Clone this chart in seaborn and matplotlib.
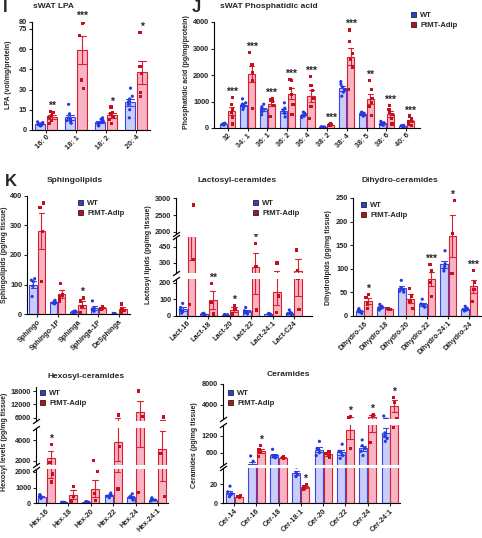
import numpy as np
import pandas as pd
import matplotlib
matplotlib.use("Agg")
import matplotlib.pyplot as plt
import seaborn as sns
from matplotlib.patches import Patch
from matplotlib.markers import MarkerStyle
from matplotlib.colors import to_rgb

# ---- data ----
GROUPS = ["WT", "FtMT-Adip"]

LPA_CATS = ["16: 0", "18: 1", "18: 2", "20: 4"]
LPA_WT = [[3, 3.5, 4, 4.5, 5, 5.5, 6, 4], [5, 6, 7, 8, 9, 12, 19],
          [3, 4, 5, 6, 7, 8, 9, 6], [9, 15, 19, 21, 23, 25, 31]]
LPA_FT = [[5, 7, 9, 11, 13, 14], [31, 37, 70, 79, 80],
          [5, 8, 10, 13, 17, 12], [25, 28, 42, 47, 72]]
LPA_STARS = ["**", "***", "*", "*"]

PA_CATS = ["32", "34: 1", "36: 1", "36: 2", "36: 4", "38: 2", "38: 4", "38: 5", "38: 6", "40: 6"]
PA_WT = [[110, 130, 150, 160, 180, 170], [700, 780, 850, 900, 950, 1100],
         [500, 620, 700, 750, 800, 900], [420, 550, 600, 680, 750, 950],
         [400, 450, 480, 520, 560, 600], [10, 20, 30, 35, 40, 45],
         [1200, 1350, 1450, 1550, 1650, 1750], [450, 480, 500, 530, 560, 600],
         [100, 130, 160, 180, 200, 250], [40, 55, 65, 75, 85, 100]]
PA_FT = [[150, 400, 600, 700, 900, 1150], [750, 1800, 2100, 2350, 2400, 2850],
         [430, 850, 1000, 1050, 1100, 1080], [500, 900, 1250, 1500, 1800, 1820],
         [350, 800, 1100, 1400, 1600, 1950], [80, 100, 120, 130, 140, 150],
         [1450, 2300, 2600, 2800, 3250, 3700], [480, 800, 950, 1100, 1450, 1800],
         [150, 350, 500, 600, 700, 850], [100, 150, 250, 300, 350, 450]]
PA_STARS = ["***", "***", "***", "***", "***", "***", "***", "**", "***", "***"]

SPH_CATS = ["Sphingo", "Sphingo-1P", "Sphinga", "Sphinga-1P", "DeSphinga"]
SPH_WT = [[60, 95, 110, 115, 120], [35, 38, 40, 44, 47], [5, 7, 8, 10, 11],
          [10, 15, 18, 20, 45], [1, 2, 2, 3]]
SPH_FT = [[110, 280, 360, 375], [45, 58, 65, 105], [5, 25, 45, 55],
          [18, 21, 22, 25], [5, 12, 18, 35]]
SPH_STARS = ["", "", "*", "", ""]

LAC_CATS = ["Lact-16", "Lact-18", "Lact-20", "Lact-22", "Lact-24:1", "Lact-C24"]
LAC_WT = [[15, 25, 35, 50, 75], [5, 8, 10, 12, 15], [3, 4, 5, 6, 7],
          [10, 18, 25, 30, 50], [6, 8, 10, 12, 14], [5, 10, 15, 20, 35]]
LAC_FT = [[70, 330, 600, 2800], [10, 80, 195], [10, 40, 60],
          [35, 270, 480], [20, 120, 300], [40, 230, 420]]
LAC_STARS = ["", "**", "*", "*", "", ""]

DIH_CATS = ["Dihydro-16", "Dihydro-18", "Dihydro-20", "Dihydro-22", "Dihydro-24:1", "Dihydro-24"]
DIH_WT = [[5, 8, 10, 12, 15], [12, 16, 18, 20, 24], [50, 52, 55, 58, 75],
          [18, 20, 23, 25, 35], [95, 100, 105, 110, 138], [10, 12, 14, 16, 20]]
DIH_FT = [[15, 25, 38, 45], [13, 14, 15, 15], [15, 30, 42, 58],
          [40, 70, 95, 108], [90, 175, 245], [30, 55, 70, 96]]
DIH_STARS = ["*", "", "", "***", "*", "***"]

HEX_CATS = ["Hex-16", "Hex-18", "Hex-20", "Hex-22", "Hex-24", "Hex-24:1"]
HEX_WT = [[300, 380, 430, 480, 550], [30, 40, 50, 60, 70], [50, 70, 80, 90, 110],
          [350, 450, 500, 550, 650], [200, 300, 380, 450, 600], [150, 200, 230, 250, 350]]
HEX_FT = [[1350, 1850, 3600], [150, 450, 1050], [200, 600, 2000],
          [900, 3400, 7200], [700, 6500, 18000], [420, 2700, 6300]]
HEX_STARS = ["*", "", "", "", "", ""]

CER_CATS = ["Cer-14", "Cer-16", "Cer-18", "Cer-18:1", "Cer-20", "Cer-22", "Cer-24", "Cer-24:1"]
CER_WT = [[7, 9, 10, 12, 18], [40, 60, 100, 300, 484], [420, 450, 480, 500, 720],
          [28, 30, 32, 38], [500, 600, 700, 750, 1000], [400, 500, 600, 650, 900],
          [500, 650, 750, 850, 1050], [1000, 1100, 1200, 1300, 1900]]
CER_FT = [[6, 7, 7.5, 8], [480, 600, 700, 860], [400, 420, 440, 460], [15, 16, 18, 20],
          [450, 500, 560, 650], [760, 1650, 1800], [950, 2000, 2100], [1500, 4500, 5500]]
CER_STARS = ["", "*", "", "*", "", "*", "*", "*"]

# ---- style ----
W, H = 482, 538
WT_EDGE, FT_EDGE = "#3a44e6", "#d8202e"
WT_FILL, FT_FILL = "#c9cdf8", "#f7b4c4"
WT_DOT, FT_DOT = "#2438e0", "#c4101c"
LEG_COLORS = ["#2f3fd6", "#b8101e"]

sns.set_style("ticks")
plt.rcParams["font.family"] = ["Liberation Sans", "DejaVu Sans"]
plt.rcParams["font.weight"] = "bold"
plt.rcParams["axes.linewidth"] = 0.8
plt.rcParams["axes.edgecolor"] = "black"

np.random.seed(3)
fig = plt.figure(figsize=(W / 100, H / 100), dpi=100)

SQUARE = MarkerStyle("s")
SQUARE_PATH = SQUARE.get_path().transformed(SQUARE.get_transform())


def px_axes(l, t, r, b):
    return fig.add_axes([l / W, 1 - b / H, (r - l) / W, (b - t) / H])


def long_form(cats, wt, ft):
    rows = []
    for cat, a, b in zip(cats, wt, ft):
        rows += [(cat, "WT", v) for v in a]
        rows += [(cat, "FtMT-Adip", v) for v in b]
    return pd.DataFrame(rows, columns=["lipid", "group", "value"])


def draw_bars(ax, df, cats):
    sns.barplot(data=df, x="lipid", y="value", hue="group", order=cats, hue_order=GROUPS,
                palette=[WT_EDGE, FT_EDGE], fill=False, errorbar="se", capsize=0.5,
                width=0.8, gap=0.1, linewidth=0.8, err_kws={"linewidth": 0.8},
                legend=False, ax=ax)
    for cont, fc in zip(ax.containers, [WT_FILL, FT_FILL]):
        for p in cont:
            p.set_facecolor(fc)
    sns.stripplot(data=df, x="lipid", y="value", hue="group", order=cats, hue_order=GROUPS,
                  palette=[WT_DOT, FT_DOT], dodge=True, jitter=0.22, size=2.3,
                  linewidth=0, legend=False, ax=ax)
    for coll in ax.collections:
        fc = coll.get_facecolor()
        if len(fc) and np.allclose(fc[0][:3], to_rgb(FT_DOT), atol=0.02):
            coll.set_paths([SQUARE_PATH])


def break_mark(ax, y):
    ax.plot([0], [y], transform=ax.transAxes, marker=[(-1, -0.7), (1, 0.7)],
            markersize=5, color="k", mec="k", mew=0.9, clip_on=False)


def add_stars(axes, lims, ft, stars):
    for i, (vals, s) in enumerate(zip(ft, stars)):
        if not s:
            continue
        arr = np.asarray(vals, float)
        top = max(arr.max(), arr.mean() + arr.std(ddof=1) / np.sqrt(len(arr)))
        target = axes[-1]
        for ax, (lo, hi) in zip(axes, lims):
            if top <= hi:
                target = ax
                break
        target.annotate(s, (i + 0.2, top), xytext=(0, 0.5), textcoords="offset points",
                        ha="center", va="bottom", fontsize=7.5, annotation_clip=False)


def panel(rects, lims, ticks, xlim, cats, wt, ft, stars):
    df = long_form(cats, wt, ft)
    axes = []
    for k, (rect, lim, tk) in enumerate(zip(rects, lims, ticks)):
        ax = px_axes(*rect)
        draw_bars(ax, df, cats)
        ax.set_ylim(lim)
        ax.set_yticks(tk)
        ax.set_xlim(xlim)
        ax.set_xlabel("")
        ax.set_ylabel("")
        sns.despine(ax=ax)
        ax.tick_params(axis="y", length=2.5, width=0.8, labelsize=5.3, pad=1)
        if k > 0:
            ax.spines["bottom"].set_visible(False)
            ax.tick_params(axis="x", bottom=False, labelbottom=False)
            break_mark(ax, 0)
        if k < len(rects) - 1:
            break_mark(ax, 1)
        axes.append(ax)
    ax0 = axes[0]
    ax0.tick_params(axis="x", length=2, width=0.8, labelsize=5.2, pad=1)
    for lab in ax0.get_xticklabels():
        lab.set_rotation(45)
        lab.set_ha("right")
        lab.set_rotation_mode("anchor")
    add_stars(axes, lims, ft, stars)
    return axes


def legend_at(x, y):
    handles = [Patch(facecolor=c, edgecolor="#222222", linewidth=0.6) for c in LEG_COLORS]
    fig.legend(handles, GROUPS, loc="upper left", bbox_to_anchor=(x / W, 1 - y / H),
               frameon=False, fontsize=5.5, handlelength=0.7, handleheight=0.7,
               handletextpad=0.5, labelspacing=0.35, borderpad=0, borderaxespad=0)


def label(x, y, s, size=5.0, rot=90, ha="center"):
    fig.text(x / W, 1 - y / H, s, rotation=rot, ha=ha, va="center",
             fontsize=size, fontweight="bold")


# ---- I: sWAT LPA ----
panel([(32, 22, 150, 130)], [(0, 80)], [[0, 15, 30, 45, 60, 75, 80]], (-0.47, 3.47),
      LPA_CATS, LPA_WT, LPA_FT, LPA_STARS)
label(9, 75, "LPA (vol/mg/protein)")
label(33, 7, "sWAT LPA", 6, 0, "left")
label(3, 8, "I", 12, 0, "left")

# ---- J: sWAT Phosphatidic acid ----
panel([(214, 22, 420, 128)], [(0, 4000)], [[0, 1000, 2000, 3000, 4000]], (-0.7, 9.7),
      PA_CATS, PA_WT, PA_FT, PA_STARS)
label(187, 72, "Phosphatidic acid (pg/mg/protein)")
label(220, 6, "sWAT Phosphatidic acid", 6, 0, "left")
label(192, 8, "J", 12, 0, "left")
legend_at(411, 12)

# ---- K: Sphingolipids ----
panel([(27, 195.5, 130, 314.3)], [(0, 400)], [[0, 100, 200, 300, 400]], (-0.5, 4.55),
      SPH_CATS, SPH_WT, SPH_FT, SPH_STARS)
label(5, 255, "Sphingolipids (pg/mg tissue)")
label(47, 181, "Sphingolipids", 6, 0, "left")
label(5, 182, "K", 12, 0, "left")
legend_at(78, 200)

# ---- Lactosyl-ceramides (broken axis) ----
panel([(176, 279, 312, 315.7), (176, 237, 312, 273), (176, 198, 312, 234)],
      [(0, 224), (208, 539), (1931, 3010)],
      [[0, 100, 200], [300, 450], [2000, 2500, 3000]], (-0.52, 5.85),
      LAC_CATS, LAC_WT, LAC_FT, LAC_STARS)
label(149, 255, "Lactosyl lipids (pg/mg tissue)")
label(197, 181, "Lactosyl-ceramides", 6, 0, "left")
legend_at(253, 200)

# ---- Dihydro-ceramides ----
panel([(353, 198, 481, 315.7)], [(0, 250)], [[0, 50, 100, 150, 200, 250]], (-0.52, 5.56),
      DIH_CATS, DIH_WT, DIH_FT, DIH_STARS)
label(328, 258, "Dihydrolipids (pg/mg tissue)")
label(362, 180, "Dihydro-ceramides", 6, 0, "left")
legend_at(361, 202)

# ---- Hexosyl-ceramides (broken axis) ----
panel([(36, 469, 168, 503.3), (36, 428, 168, 465), (36, 387, 168, 421)],
      [(0, 2171), (1584, 5160), (4530, 19800)],
      [[0, 1000, 2000], [2000, 4000], [6000, 12000, 18000]], (-0.45, 5.45),
      HEX_CATS, HEX_WT, HEX_FT, HEX_STARS)
label(5, 442, "Hexosyl levels (pg/mg tissue)")
label(47, 376, "Hexosyl-ceramides", 6, 0, "left")
legend_at(40, 390)

# ---- Ceramides (broken axis) ----
panel([(223, 468, 400, 503.3), (223, 425, 400, 465), (223, 384, 400, 419)],
      [(0, 37), (166, 1578), (1333, 8000)],
      [[0, 20], [600, 1200], [4000, 8000]], (-0.5, 7.45),
      CER_CATS, CER_WT, CER_FT, CER_STARS)
label(195, 445, "Ceramides (pg/mg tissue)")
label(267, 375, "Ceramides", 6, 0, "left")
legend_at(228, 390)

fig.savefig("out.png", dpi=100)
